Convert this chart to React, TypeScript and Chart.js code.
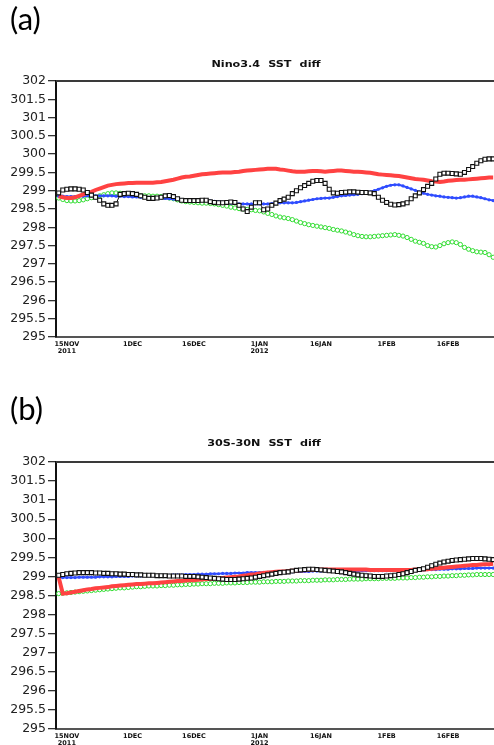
import React, { useEffect, useRef } from "react";
import { Chart, registerables } from "chart.js";

Chart.register(...registerables);

// day offset (relative to 15 Nov 2011) of the first daily value
const FIRST_DAY = -2;
const tickDays = [0, 16, 31, 47, 62, 78, 93];
const tickLabels: string[][] = [["15NOV", "2011"], ["1DEC"], ["16DEC"], ["1JAN", "2012"], ["16JAN"], ["1FEB"], ["16FEB"]];
const yTickValues = [295, 295.5, 296, 296.5, 297, 297.5, 298, 298.5, 299, 299.5, 300, 300.5, 301, 301.5, 302];

// (a) Nino3.4 SST diff
const ninoBlack = [
  298.94, 299.02, 299.04, 299.05, 299.05, 299.04, 299.02, 298.95, 298.88, 298.82, 298.74, 298.64,
  298.6, 298.6, 298.64, 298.9, 298.92, 298.93, 298.92, 298.9, 298.86, 298.82, 298.79, 298.79,
  298.8, 298.82, 298.86, 298.87, 298.84, 298.78, 298.74, 298.73, 298.73, 298.73, 298.73, 298.74,
  298.74, 298.7, 298.68, 298.67, 298.67, 298.68, 298.69, 298.68, 298.6, 298.5, 298.43, 298.55,
  298.67, 298.67, 298.48, 298.5, 298.6, 298.66, 298.73, 298.77, 298.82, 298.92, 299.0, 299.08,
  299.14, 299.2, 299.26, 299.28, 299.28, 299.2, 299.04, 298.94, 298.93, 298.95, 298.96, 298.97,
  298.97, 298.96, 298.95, 298.95, 298.94, 298.92, 298.82, 298.74, 298.68, 298.63, 298.61, 298.62,
  298.64, 298.67, 298.78, 298.86, 298.94, 299.03, 299.12, 299.2, 299.32, 299.45, 299.48, 299.48,
  299.47, 299.46, 299.45, 299.5, 299.58, 299.66, 299.75, 299.82, 299.86, 299.87, 299.87,
];
const ninoRed = [
  298.85, 298.82, 298.8, 298.8, 298.82, 298.86, 298.9, 298.94, 298.97, 299.02, 299.06, 299.1,
  299.14, 299.16, 299.18, 299.19, 299.2, 299.21, 299.21, 299.22, 299.22, 299.22, 299.22, 299.22,
  299.23, 299.24, 299.26, 299.28, 299.3, 299.33, 299.36, 299.38, 299.39, 299.41, 299.43, 299.45,
  299.46, 299.47, 299.48, 299.49, 299.5, 299.5, 299.5, 299.51, 299.52, 299.54, 299.55, 299.56,
  299.57, 299.58, 299.59, 299.6, 299.6, 299.6, 299.58, 299.57, 299.55, 299.53, 299.52, 299.52,
  299.52, 299.53, 299.54, 299.54, 299.53, 299.52, 299.53, 299.54, 299.55, 299.55, 299.54, 299.53,
  299.52, 299.52, 299.51, 299.5, 299.49, 299.47, 299.45, 299.44, 299.43, 299.42, 299.41, 299.4,
  299.38, 299.36, 299.34, 299.32, 299.31, 299.3, 299.28, 299.26, 299.25, 299.24, 299.25, 299.27,
  299.28, 299.29, 299.3, 299.3, 299.31, 299.32, 299.33, 299.34, 299.35, 299.36, 299.36,
];
const ninoBlue = [
  298.85, 298.85, 298.84, 298.84, 298.84, 298.85, 298.85, 298.86, 298.86, 298.86, 298.86, 298.86,
  298.86, 298.86, 298.85, 298.85, 298.84, 298.84, 298.83, 298.83, 298.82, 298.82, 298.82, 298.81,
  298.81, 298.8, 298.79, 298.78, 298.77, 298.76, 298.75, 298.74, 298.74, 298.74, 298.73, 298.73,
  298.73, 298.72, 298.71, 298.7, 298.69, 298.67, 298.66, 298.65, 298.64, 298.64, 298.64, 298.64,
  298.64, 298.64, 298.64, 298.64, 298.65, 298.66, 298.67, 298.67, 298.67, 298.67, 298.68, 298.7,
  298.72, 298.74, 298.76, 298.78, 298.79, 298.8, 298.8, 298.82, 298.84, 298.86, 298.87, 298.88,
  298.89, 298.9, 298.92, 298.94, 298.97, 299.0, 299.04, 299.08, 299.12, 299.15, 299.16, 299.16,
  299.13, 299.09, 299.05, 299.01, 298.97, 298.93, 298.9, 298.88, 298.86, 298.85, 298.83, 298.82,
  298.81, 298.8, 298.81, 298.83, 298.85, 298.85, 298.83, 298.81, 298.78, 298.75, 298.73,
];
const ninoGreen = [
  298.8, 298.76, 298.73, 298.72, 298.72, 298.73, 298.75, 298.78, 298.81, 298.83, 298.86, 298.89,
  298.92, 298.94, 298.94, 298.93, 298.92, 298.9, 298.88, 298.87, 298.86, 298.86, 298.86, 298.85,
  298.85, 298.84, 298.82, 298.8, 298.78, 298.75, 298.72, 298.7, 298.69, 298.68, 298.67, 298.66,
  298.66, 298.65, 298.64, 298.62, 298.6, 298.58, 298.55, 298.53, 298.51, 298.5, 298.49, 298.48,
  298.46, 298.45, 298.42, 298.38, 298.35, 298.31, 298.28, 298.26, 298.24, 298.21, 298.17, 298.13,
  298.1, 298.07, 298.05, 298.03, 298.01, 297.99, 297.97, 297.94, 297.92, 297.9, 297.87, 297.84,
  297.8, 297.77, 297.75, 297.74, 297.74, 297.75, 297.76, 297.77, 297.78, 297.79, 297.8, 297.78,
  297.76, 297.72, 297.67, 297.62, 297.59, 297.56, 297.5, 297.47, 297.46, 297.5, 297.55, 297.58,
  297.6, 297.58, 297.53, 297.45, 297.4, 297.36, 297.33, 297.32, 297.31, 297.25, 297.18,
];

// (b) 30S-30N SST diff
const tropBlack = [
  299.03, 299.05, 299.07, 299.08, 299.09, 299.1, 299.1, 299.1, 299.1, 299.09, 299.09, 299.08,
  299.08, 299.07, 299.07, 299.06, 299.06, 299.05, 299.05, 299.04, 299.04, 299.03, 299.03, 299.03,
  299.02, 299.02, 299.02, 299.01, 299.01, 299.01, 299.01, 299.0, 299.0, 299.0, 298.99, 298.98,
  298.97, 298.96, 298.95, 298.94, 298.93, 298.92, 298.92, 298.92, 298.93, 298.94, 298.95, 298.96,
  298.98, 299.0, 299.02, 299.04, 299.06, 299.08, 299.1, 299.11, 299.12, 299.14, 299.16, 299.17,
  299.18, 299.19, 299.19, 299.18, 299.17, 299.16, 299.15, 299.14, 299.13, 299.12, 299.1, 299.08,
  299.06, 299.04, 299.03, 299.02, 299.01, 299.0, 299.0, 299.0, 299.01, 299.02, 299.03, 299.05,
  299.07, 299.1, 299.13, 299.16, 299.18, 299.2, 299.24, 299.28, 299.32, 299.35, 299.38, 299.4,
  299.42, 299.43, 299.44, 299.45, 299.46, 299.47, 299.47, 299.47, 299.46, 299.45, 299.44,
];
const tropRed = [
  298.98, 298.55, 298.56, 298.58, 298.6, 298.62, 298.64, 298.66, 298.67, 298.69, 298.7, 298.71,
  298.72, 298.74, 298.75, 298.76, 298.77, 298.78, 298.79, 298.8, 298.8, 298.81, 298.82, 298.82,
  298.83, 298.84, 298.85, 298.86, 298.87, 298.88, 298.88, 298.89, 298.9, 298.9, 298.91, 298.92,
  298.93, 298.93, 298.94, 298.95, 298.96, 298.97, 298.98, 298.99, 299.0, 299.02, 299.03, 299.05,
  299.06, 299.08, 299.09, 299.1, 299.11, 299.12, 299.13, 299.13, 299.14, 299.15, 299.15, 299.16,
  299.16, 299.17, 299.17, 299.17, 299.18, 299.18, 299.18, 299.18, 299.18, 299.18, 299.18, 299.18,
  299.18, 299.18, 299.18, 299.18, 299.17, 299.17, 299.17, 299.17, 299.17, 299.17, 299.17, 299.17,
  299.17, 299.17, 299.17, 299.18, 299.18, 299.18, 299.19, 299.2, 299.21, 299.22, 299.23, 299.24,
  299.25, 299.26, 299.27, 299.28, 299.29, 299.3, 299.3, 299.31, 299.32, 299.32, 299.33,
];
const tropBlue = [
  298.97, 298.97, 298.97, 298.97, 298.97, 298.98, 298.98, 298.98, 298.98, 298.98, 298.99, 298.99,
  298.99, 298.99, 299.0, 299.0, 299.0, 299.0, 299.01, 299.01, 299.01, 299.02, 299.02, 299.02,
  299.02, 299.03, 299.03, 299.03, 299.04, 299.04, 299.04, 299.05, 299.05, 299.05, 299.06, 299.06,
  299.06, 299.07, 299.07, 299.07, 299.08, 299.08, 299.08, 299.09, 299.09, 299.09, 299.1, 299.1,
  299.1, 299.1, 299.11, 299.11, 299.11, 299.12, 299.12, 299.12, 299.12, 299.12, 299.13, 299.13,
  299.13, 299.13, 299.14, 299.14, 299.14, 299.14, 299.14, 299.14, 299.15, 299.15, 299.15, 299.15,
  299.15, 299.15, 299.15, 299.15, 299.15, 299.15, 299.15, 299.15, 299.15, 299.15, 299.16, 299.16,
  299.16, 299.16, 299.17, 299.17, 299.17, 299.17, 299.18, 299.18, 299.18, 299.19, 299.19, 299.19,
  299.2, 299.2, 299.2, 299.21, 299.21, 299.21, 299.22, 299.22, 299.22, 299.22, 299.22,
];
const tropGreen = [
  298.55, 298.56, 298.57, 298.58, 298.59, 298.6, 298.61, 298.62, 298.63, 298.64, 298.65, 298.66,
  298.67, 298.68, 298.69, 298.7, 298.7, 298.71, 298.72, 298.73, 298.73, 298.74, 298.75, 298.75,
  298.75, 298.76, 298.76, 298.77, 298.77, 298.78, 298.78, 298.79, 298.79, 298.8, 298.8, 298.81,
  298.81, 298.81, 298.82, 298.82, 298.82, 298.83, 298.83, 298.83, 298.84, 298.84, 298.84, 298.85,
  298.85, 298.85, 298.86, 298.86, 298.86, 298.87, 298.87, 298.87, 298.88, 298.88, 298.88, 298.89,
  298.89, 298.89, 298.9, 298.9, 298.9, 298.91, 298.91, 298.91, 298.92, 298.92, 298.92, 298.93,
  298.93, 298.93, 298.93, 298.94, 298.94, 298.94, 298.94, 298.95, 298.95, 298.95, 298.95, 298.96,
  298.96, 298.96, 298.97, 298.97, 298.98, 298.98, 298.99, 298.99, 299.0, 299.0, 299.01, 299.01,
  299.02, 299.02, 299.03, 299.03, 299.04, 299.04, 299.05, 299.05, 299.05, 299.05, 299.05,
];

const X_MIN = -2.65;
const X_MAX = 104.2;
const Y_MIN = 295;
const Y_MAX = 302;

// draws the top edge of the plot frame
const frameTopPlugin = {
  id: "frameTop",
  afterDraw(chart: any) {
    const { ctx, chartArea } = chart;
    ctx.save();
    ctx.fillStyle = "#3a3a3a";
    ctx.fillRect(chartArea.left, Math.round(chartArea.top) - 1, chartArea.right - chartArea.left, 2);
    ctx.restore();
  },
};

type PanelProps = {
  top: number;
  height: number;
  padTop: number;
  padBottom: number;
  axisH: number;
  black: number[];
  red: number[];
  blue: number[];
  green: number[];
};

function Panel({ top, height, padTop, padBottom, axisH, black, red, blue, green }: PanelProps) {
  const ref = useRef<HTMLCanvasElement>(null);
  useEffect(() => {
    const toPts = (arr: number[]) => arr.map((v, i) => ({ x: FIRST_DAY + i, y: v }));
    const chart = new Chart(ref.current as HTMLCanvasElement, {
      type: "line",
      data: {
        datasets: [
          {
            data: toPts(black),
            order: 0,
            borderColor: "#111",
            borderWidth: 1,
            pointStyle: "rect",
            pointRadius: 2.8,
            pointBorderWidth: 1.1,
            pointBorderColor: "#111",
            pointBackgroundColor: "#fff",
          },
          {
            data: toPts(red),
            order: 1,
            borderColor: "#ff4242",
            borderWidth: 4,
            pointRadius: 0,
          },
          {
            data: toPts(blue),
            order: 2,
            borderColor: "#2f4cff",
            borderWidth: 2,
            pointRadius: 1.6,
            pointBorderWidth: 0,
            pointBackgroundColor: "#2f4cff",
          },
          {
            data: toPts(green),
            order: 3,
            borderColor: "#2fdc2f",
            borderWidth: 1,
            pointRadius: 2.1,
            pointBorderWidth: 1,
            pointBorderColor: "#2fdc2f",
            pointBackgroundColor: "#fff",
          },
        ],
      } as any,
      options: {
        animation: false,
        responsive: false,
        devicePixelRatio: 1,
        layout: { autoPadding: false, padding: { top: padTop, bottom: padBottom, left: 0, right: 0 } },
        plugins: { legend: { display: false }, tooltip: { enabled: false }, title: { display: false } },
        elements: { line: { tension: 0 } },
        scales: {
          x: {
            type: "linear",
            min: X_MIN,
            max: X_MAX,
            afterBuildTicks: (s: any) => {
              s.ticks = tickDays.map((v) => ({ value: v }));
            },
            afterFit: (s: any) => {
              s.height = axisH;
            },
            ticks: {
              autoSkip: false,
              maxRotation: 0,
              minRotation: 0,
              padding: 4,
              color: "#111",
              font: { family: "DejaVu Sans", size: 6.5, weight: "bold", lineHeight: 1.05 },
              callback: (_v: any, i: number) => tickLabels[i],
            },
            grid: { drawOnChartArea: false, drawTicks: false, color: "#555" },
            border: { color: "#555", width: 2 },
          },
          y: {
            type: "linear",
            min: Y_MIN,
            max: Y_MAX,
            afterBuildTicks: (s: any) => {
              s.ticks = yTickValues.map((v) => ({ value: v }));
            },
            afterFit: (s: any) => {
              s.width = 56;
            },
            ticks: {
              autoSkip: false,
              padding: 2,
              color: "#222",
              font: { family: "DejaVu Sans", size: 12.5 },
              callback: (v: any) => String(v),
            },
            grid: {
              drawOnChartArea: false,
              drawTicks: true,
              tickLength: 8,
              color: "#333",
              lineWidth: 1.3,
            },
            border: { color: "#111", width: 2 },
          },
        },
      } as any,
      plugins: [frameTopPlugin],
    });
    return () => chart.destroy();
  }, []);
  return (
    <canvas
      ref={ref}
      width={494}
      height={height}
      style={{ position: "absolute", left: 0, top, width: 494, height, display: "block" }}
    />
  );
}

const panelLetter: React.CSSProperties = {
  position: "absolute",
  left: 10,
  fontFamily: "Lato, 'Open Sans', sans-serif",
  fontSize: 31,
  lineHeight: "31px",
  color: "#000",
};

const titleStyle: React.CSSProperties = {
  position: "absolute",
  width: 200,
  textAlign: "center",
  fontFamily: "'DejaVu Sans', sans-serif",
  fontWeight: "bold",
  fontSize: 8,
  lineHeight: "10px",
  wordSpacing: 3,
  color: "#111",
  transform: "scaleX(1.4)",
  transformOrigin: "center",
  whiteSpace: "nowrap",
};

export default function App() {
  return (
    <div style={{ position: "absolute", left: 0, top: 0, width: 494, height: 745, background: "#fff", overflow: "hidden" }}>
      <Panel top={0} height={372} padTop={81} padBottom={10} axisH={25} black={ninoBlack} red={ninoRed} blue={ninoBlue} green={ninoGreen} />
      <Panel top={380} height={365} padTop={82} padBottom={0} axisH={16} black={tropBlack} red={tropRed} blue={tropBlue} green={tropGreen} />
      <div style={{ ...panelLetter, top: 3 }}>(a)</div>
      <div style={{ ...titleStyle, left: 165.5, top: 60 }}>Nino3.4 SST diff</div>
      <div style={{ ...panelLetter, top: 393 }}>(b)</div>
      <div style={{ ...titleStyle, left: 163.5, top: 439 }}>30S-30N SST diff</div>
    </div>
  );
}
